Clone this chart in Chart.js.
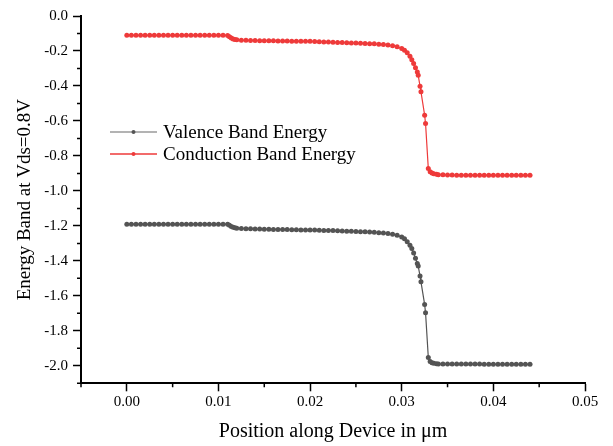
<!DOCTYPE html>
<html>
<head>
<meta charset="utf-8">
<script src="https://cdn.jsdelivr.net/npm/chart.js@4.4.1/dist/chart.umd.min.js"></script>
<style>
  html, body { margin: 0; padding: 0; background: #fff; }
  #wrap { width: 613px; height: 446px; }
</style>
</head>
<body>
<div id="wrap"><canvas id="bandChart"></canvas></div>
<script>
// Position along the device (um)
const positions = [
  0.0000, 0.0005, 0.0010, 0.0015, 0.0020, 0.0025, 0.0030, 0.0035, 0.0040, 0.0045, 0.0050, 0.0055,
  0.0060, 0.0065, 0.0070, 0.0075, 0.0080, 0.0085, 0.0090, 0.0095, 0.0100, 0.0105, 0.0110,
  0.0112, 0.0114, 0.0116, 0.0118, 0.0120, 0.0125, 0.0130,
  0.0135, 0.0140, 0.0145, 0.0150, 0.0155, 0.0160, 0.0165, 0.0170, 0.0175, 0.0180, 0.0185, 0.0190, 0.0195, 0.0200,
  0.0205, 0.0210, 0.0215, 0.0220, 0.0225, 0.0230, 0.0235, 0.0240, 0.0245, 0.0250, 0.0255, 0.0260,
  0.0265, 0.0270, 0.0275, 0.0280, 0.0285, 0.0290,
  0.0295, 0.0300, 0.0303, 0.0306, 0.0309, 0.0311, 0.0313, 0.0315, 0.0317, 0.0318, 0.0320, 0.0321,
  0.0325, 0.0326, 0.0329, 0.0331, 0.0333, 0.0335, 0.0338, 0.0340,
  0.0345, 0.0350, 0.0355, 0.0360, 0.0365, 0.0370, 0.0375, 0.0380, 0.0385, 0.0390, 0.0395, 0.0400,
  0.0405, 0.0410, 0.0415, 0.0420, 0.0425, 0.0430, 0.0435, 0.0440
];

const valenceBand = [
  -1.190, -1.190, -1.190, -1.190, -1.190, -1.190, -1.190, -1.190, -1.190, -1.190, -1.190, -1.190,
  -1.190, -1.190, -1.190, -1.190, -1.190, -1.190, -1.190, -1.190, -1.190, -1.190, -1.190,
  -1.197, -1.204, -1.208, -1.211, -1.213, -1.215, -1.216,
  -1.217, -1.218, -1.218, -1.219, -1.219, -1.220, -1.220, -1.221, -1.221, -1.222, -1.222, -1.223, -1.223, -1.224,
  -1.224, -1.225, -1.226, -1.226, -1.227, -1.228, -1.229, -1.230, -1.231, -1.232, -1.233, -1.234,
  -1.235, -1.237, -1.239, -1.241, -1.244, -1.248,
  -1.254, -1.264, -1.274, -1.290, -1.310, -1.330, -1.355, -1.385, -1.415, -1.430, -1.487, -1.520,
  -1.649, -1.697, -1.952, -1.975, -1.982, -1.985, -1.988, -1.989,
  -1.990, -1.990, -1.990, -1.990, -1.990, -1.990, -1.990, -1.990, -1.990, -1.991, -1.991, -1.991,
  -1.991, -1.991, -1.991, -1.991, -1.991, -1.991, -1.991, -1.991
];

const conductionBand = [
  -0.110, -0.110, -0.110, -0.110, -0.110, -0.110, -0.110, -0.110, -0.110, -0.110, -0.110, -0.110,
  -0.110, -0.110, -0.110, -0.110, -0.110, -0.110, -0.110, -0.110, -0.110, -0.110, -0.111,
  -0.118, -0.126, -0.131, -0.134, -0.136, -0.138, -0.139,
  -0.140, -0.140, -0.141, -0.141, -0.142, -0.142, -0.143, -0.143, -0.143, -0.144, -0.144, -0.145, -0.145, -0.145,
  -0.146, -0.147, -0.148, -0.149, -0.150, -0.151, -0.152, -0.153, -0.154, -0.155, -0.156, -0.157,
  -0.158, -0.159, -0.161, -0.163, -0.166, -0.170,
  -0.176, -0.186, -0.196, -0.210, -0.230, -0.250, -0.272, -0.296, -0.320, -0.339, -0.402, -0.433,
  -0.567, -0.615, -0.872, -0.891, -0.898, -0.902, -0.905, -0.907,
  -0.908, -0.909, -0.909, -0.910, -0.910, -0.910, -0.910, -0.910, -0.910, -0.910, -0.910, -0.911,
  -0.911, -0.911, -0.911, -0.911, -0.911, -0.911, -0.911, -0.911
];

const seriesNames = ['Valence Band Energy', 'Conduction Band Energy'];
const xRange = [-0.005, 0.05];
const yRange = [-2.1, 0.0];

const serif = "'Liberation Serif', 'DejaVu Serif', serif";
const RED = '#ee3a3a';
const GREY = '#545454';

// minor ticks + legend drawn inside the plot like the original figure
const decorations = {
  id: 'decorations',
  afterDraw(chart) {
    const ctx = chart.ctx;
    const xs = chart.scales.x, ys = chart.scales.y;
    ctx.save();
    ctx.strokeStyle = '#000';
    ctx.lineWidth = 1.5;
    ctx.beginPath();
    for (let v = -0.005; v <= 0.0501; v += 0.01) {
      const px = xs.getPixelForValue(v);
      ctx.moveTo(px, ys.bottom);
      ctx.lineTo(px, ys.bottom + 4);
    }
    for (let v = -2.1; v <= -0.05; v += 0.2) {
      const py = ys.getPixelForValue(v);
      ctx.moveTo(xs.left, py);
      ctx.lineTo(xs.left - 4, py);
    }
    ctx.stroke();

    // legend
    const items = [
      { label: seriesNames[0], line: '#9a9a9a', dot: GREY, y: 132 },
      { label: seriesNames[1], line: RED, dot: RED, y: 154 }
    ];
    ctx.font = '19px ' + serif;
    ctx.textBaseline = 'middle';
    items.forEach(it => {
      ctx.strokeStyle = it.line;
      ctx.lineWidth = 1.5;
      ctx.beginPath();
      ctx.moveTo(110, it.y);
      ctx.lineTo(157, it.y);
      ctx.stroke();
      ctx.fillStyle = it.dot;
      ctx.beginPath();
      ctx.arc(133.5, it.y, 2, 0, Math.PI * 2);
      ctx.fill();
      ctx.fillStyle = '#000';
      ctx.fillText(it.label, 163, it.y + 1);
    });
    ctx.restore();
  }
};

const ctx = document.getElementById('bandChart').getContext('2d');

new Chart(ctx, {
  type: 'scatter',
  data: {
    datasets: [
      {
        label: seriesNames[0],
        data: positions.map((x, i) => ({ x: x, y: valenceBand[i] })),
        showLine: true,
        borderColor: GREY,
        backgroundColor: GREY,
        borderWidth: 1.2,
        pointRadius: 2.5,
        pointBorderWidth: 0,
        pointBackgroundColor: GREY
      },
      {
        label: seriesNames[1],
        data: positions.map((x, i) => ({ x: x, y: conductionBand[i] })),
        showLine: true,
        borderColor: RED,
        backgroundColor: RED,
        borderWidth: 1.2,
        pointRadius: 2.5,
        pointBorderWidth: 0,
        pointBackgroundColor: RED
      }
    ]
  },
  options: {
    responsive: true,
    maintainAspectRatio: false,
    animation: false,
    layout: { padding: { top: 16, right: 28, bottom: 0, left: 0 } },
    plugins: {
      legend: { display: false },
      tooltip: { enabled: false }
    },
    scales: {
      x: {
        type: 'linear',
        min: xRange[0],
        max: xRange[1],
        afterFit: function(scale) { scale.height = 62.7; },
        border: { color: '#000', width: 2 },
        grid: { drawOnChartArea: false, color: '#000', tickLength: 8, tickWidth: 1.5 },
        ticks: {
          stepSize: 0.01,
          includeBounds: false,
          padding: 2,
          color: '#000',
          font: { family: serif, size: 15 },
          maxRotation: 0,
          callback: v => v.toFixed(2)
        },
        title: {
          display: true,
          text: 'Position along Device in μm',
          color: '#000',
          font: { family: serif, size: 20 },
          padding: { top: 0, bottom: 2 }
        }
      },
      y: {
        type: 'linear',
        min: yRange[0],
        max: yRange[1],
        afterFit: function(scale) { scale.width = 81; },
        border: { color: '#000', width: 2 },
        grid: { drawOnChartArea: false, color: '#000', tickLength: 8, tickWidth: 1.5 },
        ticks: {
          stepSize: 0.2,
          includeBounds: false,
          padding: 5,
          color: '#000',
          font: { family: serif, size: 15 },
          callback: v => v.toFixed(1)
        },
        title: {
          display: true,
          text: 'Energy Band at Vds=0.8V',
          color: '#000',
          font: { family: serif, size: 19 },
          padding: { top: 14, bottom: 0 }
        }
      }
    }
  },
  plugins: [decorations]
});
</script>
</body>
</html>
